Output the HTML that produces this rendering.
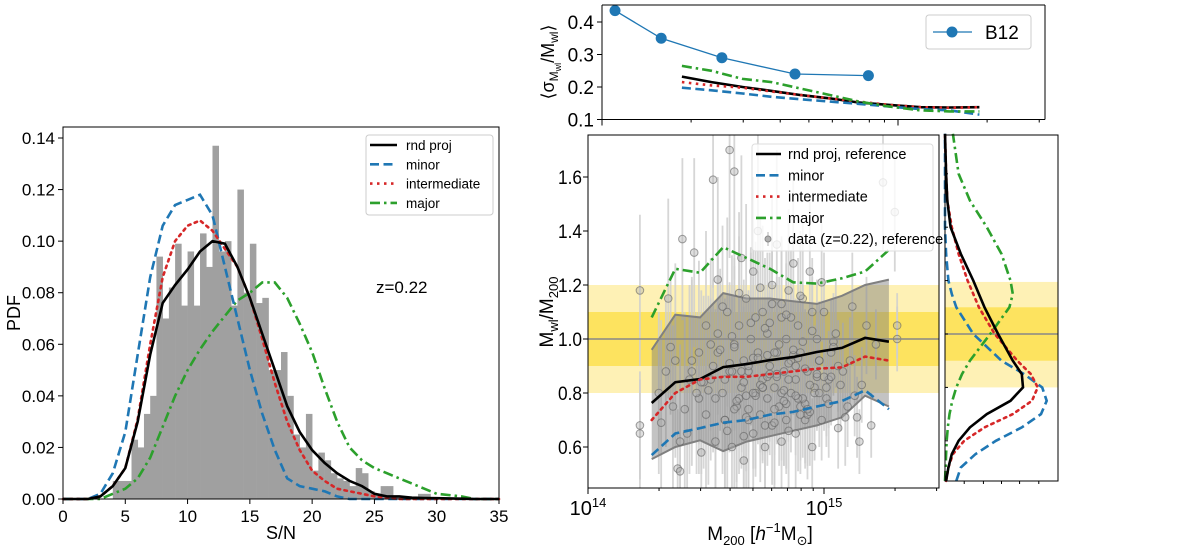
<!DOCTYPE html>
<html><head><meta charset="utf-8">
<style>
html,body{margin:0;padding:0;background:#fff;}
svg{display:block;font-family:"Liberation Sans","DejaVu Sans",sans-serif;}
</style></head>
<body>
<svg id="fig" width="1200" height="546" viewBox="0 0 1200 546" xmlns="http://www.w3.org/2000/svg">
<g id="left"></g>
<g id="top"></g>
<g id="main"></g>
<g id="side"></g>
</svg>
<script>
// ---------- LEFT PANEL DATA ----------
const histBinStart = 4.0;
const histBinWidth = 0.5;
const histValues = [0.007,0.007,0.007,0.023,0.020,0.033,0.040,0.094,0.070,0.082,0.099,0.075,0.096,0.075,0.103,0.090,0.137,0.096,0.100,0.075,0.120,0.080,0.099,0.076,0.078,0.050,0.050,0.057,0.040,0.025,0.020,0.033,0.011,0.018,0.015,0.010,0.008,0.007,0.005,0.012,0.010,0.003,0.002,0.005,0.005,0.001,0.001,0.001,0.001,0.002,0.002];
const pdfX = [0,2,3,4,5,6,7,8,9,10,11,12,13,14,15,16,17,18,19,20,21,22,23,24,25,26,27,28,29,30,32,33,35];
const pdfRnd = [0,0,0.001,0.005,0.012,0.030,0.056,0.076,0.083,0.089,0.096,0.100,0.099,0.090,0.078,0.064,0.050,0.036,0.026,0.019,0.014,0.010,0.007,0.005,0.002,0.001,0.001,0.0005,0.0004,0.0003,0.0001,0,0];
const pdfMinor = [0,0,0.002,0.010,0.026,0.056,0.086,0.106,0.114,0.116,0.118,0.110,0.090,0.070,0.050,0.033,0.019,0.008,0.005,0.004,0.003,0.001,0,0,0,0,0,0,0,0,0,0,0];
const pdfInter = [0,0,0.001,0.005,0.012,0.031,0.060,0.086,0.100,0.106,0.108,0.104,0.097,0.090,0.078,0.062,0.045,0.030,0.019,0.011,0.007,0.004,0.003,0.002,0.001,0.0005,0,0,0,0,0,0,0];
const pdfMajor = [0,0,0,0.002,0.004,0.008,0.016,0.028,0.040,0.050,0.058,0.065,0.071,0.077,0.080,0.084,0.084,0.078,0.068,0.057,0.043,0.030,0.020,0.015,0.012,0.010,0.008,0.006,0.004,0.002,0.001,0,0];
const leftXTicks = [0,5,10,15,20,25,30,35];
const leftYTicks = [0,0.02,0.04,0.06,0.08,0.10,0.12,0.14];
const leftYTickLabels = ["0.00","0.02","0.04","0.06","0.08","0.10","0.12","0.14"];

// ---------- TOP PANEL DATA ----------
const b12LogM = [14.044,14.20,14.405,14.652,14.90];
const b12Sigma = [0.435,0.35,0.29,0.24,0.235];
const binLogM = [14.27,14.37,14.475,14.573,14.672,14.771,14.869,14.97,15.076,15.174,15.275];
const sigRnd = [0.232,0.215,0.200,0.188,0.175,0.165,0.152,0.145,0.138,0.137,0.138];
const sigInter = [0.215,0.205,0.198,0.186,0.175,0.165,0.155,0.145,0.138,0.136,0.138];
const sigMinor = [0.198,0.190,0.180,0.170,0.162,0.155,0.148,0.140,0.132,0.128,0.115];
const sigMajor = [0.265,0.250,0.225,0.215,0.195,0.175,0.155,0.140,0.128,0.125,0.125];
const topYTicks = [0.1,0.2,0.3,0.4];

// ---------- MAIN PANEL DATA ----------
const ratioRnd = [0.763,0.840,0.852,0.896,0.907,0.922,0.933,0.952,0.967,1.004,0.990];
const ratioInter = [0.70,0.80,0.85,0.86,0.86,0.87,0.88,0.89,0.895,0.935,0.92];
const ratioMinor = [0.57,0.65,0.67,0.69,0.70,0.72,0.73,0.75,0.77,0.81,0.74];
const ratioMajor = [1.08,1.26,1.245,1.34,1.30,1.26,1.21,1.205,1.225,1.25,1.33];
const bandUpper = [0.96,1.09,1.08,1.17,1.15,1.15,1.14,1.13,1.16,1.20,1.22];
const bandLower = [0.555,0.60,0.625,0.585,0.62,0.64,0.66,0.68,0.71,0.79,0.75];
const mainYTicks = [0.6,0.8,1.0,1.2,1.4,1.6];
const dataLogM = [14.22,14.22,14.22,14.35,14.38,14.39,14.30,14.33,14.36,14.40,14.42,14.44,14.45,14.47,14.48,14.50,14.50,14.52,14.53,14.54,14.55,14.55,14.57,14.58,14.59,14.60,14.60,14.61,14.62,14.62,14.63,14.64,14.65,14.65,14.66,14.66,14.67,14.68,14.68,14.69,14.70,14.70,14.71,14.72,14.72,14.73,14.74,14.74,14.75,14.76,14.76,14.77,14.78,14.78,14.79,14.80,14.80,14.81,14.82,14.82,14.83,14.84,14.84,14.85,14.86,14.86,14.87,14.88,14.88,14.89,14.90,14.90,14.91,14.92,14.93,14.94,14.95,14.96,14.97,14.98,14.99,15.00,15.01,15.02,15.03,15.05,15.06,15.08,15.10,15.12,15.15,15.18,15.20,15.25,15.30,15.31,15.31,14.46,14.52,14.58,14.64,14.70,14.76,14.82,14.88,14.94,14.56,14.62,14.68,14.74,14.80,14.86,14.92,14.98,14.49,14.55,14.61,14.67,14.73,14.79,14.85,14.91,14.97,15.04,
14.51,14.53,14.57,14.59,14.61,14.63,14.64,14.66,14.67,14.69,14.71,14.72,14.73,14.75,14.77,14.78,14.79,14.81,14.83,14.84,14.85,14.87,14.89,14.90,14.92,14.93,14.95,14.96,14.99,15.00,15.02,15.04,15.07,15.09,15.11,14.54,14.58,14.62,14.65,14.68,14.71,14.74,14.76,14.79,14.82,14.85,14.88,14.91,14.94,14.97,15.01,14.60,14.66,14.70,14.75,14.80,14.84,14.87,14.90,14.95,14.48,14.44,14.41,14.37,14.34,14.31,14.43,14.47,14.39,15.13,15.16,15.22,15.14,15.06,15.03,14.98,14.93,14.89,14.83,14.77];
const dataRatio = [1.18,0.68,0.65,0.97,0.52,0.51,0.80,0.88,0.75,1.37,0.65,0.92,1.32,0.78,0.58,1.05,0.72,0.85,1.59,0.62,0.95,1.22,0.80,0.70,1.10,1.70,0.88,0.60,1.62,0.98,0.75,1.05,0.82,1.30,0.55,0.92,1.15,0.70,0.88,1.00,0.65,1.25,0.80,0.95,1.40,0.72,0.85,1.10,0.60,1.02,0.78,0.90,1.20,0.68,0.82,0.95,1.35,0.75,1.08,0.62,0.88,1.00,0.70,1.18,0.80,0.92,1.28,0.65,0.85,1.05,0.75,0.95,1.15,0.70,0.88,1.25,0.60,0.82,1.00,0.92,0.70,1.10,0.78,0.85,0.95,1.02,0.67,0.88,0.75,1.12,0.62,1.05,0.68,1.58,1.47,1.05,1.00,0.80,0.98,0.85,0.78,0.93,0.86,0.80,0.90,0.83,0.96,0.74,0.90,0.82,0.87,1.08,0.76,0.92,0.84,1.02,0.88,0.79,0.83,0.95,0.91,0.78,0.86,0.99,0.81,
0.90,1.12,0.66,1.01,0.77,1.17,0.84,0.71,1.06,0.79,0.93,1.19,0.68,0.87,1.13,0.74,0.98,0.81,1.09,0.66,0.94,0.78,1.16,0.89,0.72,1.03,0.80,1.21,0.86,0.76,0.97,0.83,0.71,0.92,0.78,0.70,0.97,0.88,0.74,1.08,0.82,0.94,0.69,1.13,0.85,0.79,0.99,0.73,0.87,0.82,0.91,0.64,0.80,1.04,0.86,0.76,0.96,0.72,1.10,0.84,0.88,0.74,0.92,1.15,0.69,0.85,0.95,0.62,0.79,0.83,0.98,0.71,0.90,0.86,0.80,0.74,0.93,0.77,1.06];
const dataErr = [0.28,0.20,0.20,0.25,0.22,0.22,0.30,0.28,0.30,0.30,0.25,0.30,0.35,0.28,0.25,0.35,0.30,0.30,0.40,0.28,0.35,0.38,0.30,0.30,0.35,0.40,0.30,0.25,0.40,0.32,0.28,0.33,0.30,0.38,0.25,0.30,0.35,0.28,0.30,0.32,0.25,0.35,0.28,0.30,0.38,0.25,0.28,0.32,0.22,0.30,0.25,0.28,0.33,0.22,0.25,0.28,0.35,0.22,0.30,0.20,0.25,0.28,0.20,0.30,0.22,0.25,0.32,0.20,0.22,0.25,0.20,0.22,0.28,0.18,0.22,0.28,0.18,0.20,0.22,0.20,0.15,0.22,0.18,0.18,0.20,0.20,0.15,0.18,0.15,0.20,0.12,0.18,0.12,0.25,0.22,0.12,0.12,0.30,0.32,0.30,0.28,0.30,0.28,0.25,0.25,0.22,0.30,0.30,0.28,0.28,0.25,0.25,0.22,0.22,0.32,0.30,0.28,0.28,0.25,0.25,0.22,0.22,0.20,0.18,
0.35,0.32,0.30,0.34,0.30,0.33,0.30,0.28,0.32,0.28,0.30,0.32,0.26,0.28,0.30,0.26,0.28,0.25,0.28,0.24,0.26,0.22,0.27,0.24,0.22,0.24,0.20,0.25,0.22,0.20,0.20,0.18,0.17,0.18,0.16,0.33,0.32,0.30,0.30,0.29,0.28,0.27,0.26,0.25,0.24,0.23,0.22,0.21,0.20,0.20,0.18,0.30,0.28,0.28,0.26,0.25,0.24,0.23,0.22,0.20,0.34,0.35,0.36,0.36,0.37,0.38,0.35,0.34,0.36,0.15,0.14,0.13,0.15,0.17,0.18,0.20,0.21,0.22,0.24,0.26];

// ---------- SIDE PANEL DATA ----------
const sideY = [0.45,0.50,0.55,0.60,0.65,0.70,0.75,0.80,0.85,0.90,1.00,1.10,1.15,1.20,1.30,1.40,1.50,1.60,1.75];
const sideRnd = [0.01,0.03,0.06,0.12,0.22,0.37,0.58,0.69,0.68,0.60,0.47,0.35,0.30,0.25,0.14,0.05,0.02,0.01,0.0];
const sideInter = [0.01,0.03,0.07,0.17,0.35,0.60,0.77,0.82,0.76,0.64,0.44,0.30,0.25,0.20,0.12,0.06,0.02,0.01,0.0];
const sideMinor = [0.10,0.14,0.27,0.45,0.68,0.85,0.90,0.86,0.70,0.50,0.25,0.10,0.06,0.03,0.01,0.0,0.0,0.0,0.0];
const sideMajor = [0.0,0.005,0.01,0.015,0.025,0.04,0.065,0.10,0.15,0.22,0.40,0.57,0.60,0.58,0.50,0.37,0.22,0.12,0.07];

const NS = "http://www.w3.org/2000/svg";
function el(tag, attrs, parent, text){
  const e = document.createElementNS(NS, tag);
  for (const k in attrs) e.setAttribute(k, attrs[k]);
  if (text !== undefined) e.textContent = text;
  parent.appendChild(e);
  return e;
}
const styles = {
  rnd:{stroke:"#000","stroke-width":2.6,fill:"none"},
  minor:{stroke:"#1f77b4","stroke-width":2.6,fill:"none","stroke-dasharray":"9,4.5"},
  inter:{stroke:"#d62728","stroke-width":2.6,fill:"none","stroke-dasharray":"2.5,4.5"},
  major:{stroke:"#2ca02c","stroke-width":2.6,fill:"none","stroke-dasharray":"10,4,2.5,4"}
};
function pathFrom(xs, ys, sx, sy){
  return xs.map((x,i)=>(i?"L":"M")+sx(x).toFixed(1)+","+sy(ys[i]).toFixed(1)).join(" ");
}

// ===== LEFT =====
(function(){
  const g = document.getElementById("left");
  const X0=63,X1=499,Y0=499,Y1=127;
  const sx = v => X0 + (v/35)*(X1-X0);
  const sy = v => Y0 - (v/0.14)*(Y0-138);
  histValues.forEach((h,i)=>{
    const x0 = histBinStart + i*histBinWidth;
    const r = el("rect",{x:sx(x0),y:sy(h),width:sx(x0+histBinWidth)-sx(x0)+0.3,height:Y0-sy(h),fill:"#a0a0a0"},g);
    
    
  });
  [["major",pdfMajor],["minor",pdfMinor],["inter",pdfInter],["rnd",pdfRnd]].forEach(([k,arr])=>{
    const p = el("path",Object.assign({d:pathFrom(pdfX,arr,sx,sy),"stroke-linecap":k==="inter"?"round":"butt"},styles[k]),g);
    
    
  });
  const fr = el("rect",{x:X0,y:Y1,width:X1-X0,height:Y0-Y1,fill:"none",stroke:"#000","stroke-width":1},g);
  
  
  leftXTicks.forEach(t=>{
    el("line",{x1:sx(t),x2:sx(t),y1:Y0,y2:Y0+5,stroke:"#000"},g);
    const tx = el("text",{x:sx(t),y:Y0+23,"font-size":17,"text-anchor":"middle"},g,String(t));
    
    
  });
  leftYTicks.forEach((t,i)=>{
    el("line",{x1:X0-5,x2:X0,y1:sy(t),y2:sy(t),stroke:"#000"},g);
    const tx = el("text",{x:X0-8,y:sy(t)+6,"font-size":17,"text-anchor":"end"},g,leftYTickLabels[i]);
    
    
  });
  const xl = el("text",{x:281,y:539,"font-size":18,"text-anchor":"middle"},g,"S/N");
  
  
  const yl = el("text",{x:0,y:0,"font-size":18,"text-anchor":"middle",transform:"translate(20,313) rotate(-90)"},g,"PDF");
  
  
  const z = el("text",{x:376,y:293,"font-size":17},g,"z=0.22");
  
  
  const lg = el("g",{},g);
  
  
  el("rect",{x:366,y:135,width:127,height:80,rx:3,fill:"#fff","fill-opacity":0.85,stroke:"#ccc"},lg);
  [["rnd","rnd proj"],["minor","minor"],["inter","intermediate"],["major","major"]].forEach(([k,lab],i)=>{
    const yy = 145+i*19.3;
    el("line",Object.assign({x1:370,x2:397,y1:yy,y2:yy},styles[k]),lg);
    const t = el("text",{x:406,y:yy+5,"font-size":13.5},lg,lab);
    
    
  });
})();

// ===== TOP =====
(function(){
  const g = document.getElementById("top");
  const X0=602,X1=1045,Y0=119.5,Y1=5;
  const sx = v => X0 + (v-14)*296;
  const sy = v => Y0 - (v-0.1)*325;
  [["rnd",sigRnd],["inter",sigInter],["minor",sigMinor],["major",sigMajor]].forEach(([k,arr])=>{
    const p = el("path",Object.assign({d:pathFrom(binLogM,arr,sx,sy)},styles[k]),g);
    
    
  });
  const bl = el("path",{d:pathFrom(b12LogM,b12Sigma,sx,sy),stroke:"#1f77b4","stroke-width":1.3,fill:"none"},g);
  
  
  b12LogM.forEach((m,i)=>{
    const c = el("circle",{cx:sx(m),cy:sy(b12Sigma[i]),r:5.5,fill:"#1f77b4"},g);
    
    
  });
  el("line",{x1:X0,x2:X0,y1:Y1,y2:Y0,stroke:"#000"},g);
  el("line",{x1:X0,x2:X1,y1:Y0,y2:Y0,stroke:"#000"},g);
  el("line",{x1:X0,x2:X1,y1:Y1,y2:Y1,stroke:"#000"},g);
  el("line",{x1:X1,x2:X1,y1:Y1,y2:Y0,stroke:"#000"},g);
  topYTicks.forEach(t=>{
    el("line",{x1:X0-5,x2:X0,y1:sy(t),y2:sy(t),stroke:"#000"},g);
    const tx = el("text",{x:X0-8,y:sy(t)+7,"font-size":19,"text-anchor":"end"},g,t.toFixed(1));
    
    
  });
  for(let d=14;d<=15;d++) for(let m=1;m<=9;m++){
    const lv = d+Math.log10(m); if (lv>15.5) break;
    el("line",{x1:sx(lv),x2:sx(lv),y1:Y0,y2:Y0+(m===1?6:3),stroke:"#000"},g);
  }
  const yl = el("text",{x:0,y:0,"font-size":18,"text-anchor":"middle",transform:"translate(554,62) rotate(-90)"},g);
  
  
  yl.innerHTML = '⟨σ<tspan font-size="12" dy="4">M</tspan><tspan font-size="9" dy="3">wl</tspan><tspan dy="-7">/M</tspan><tspan font-size="12" dy="4">wl</tspan><tspan dy="-4">⟩</tspan>';
  const lg = el("g",{},g);
  
  
  el("rect",{x:926,y:15,width:105,height:34,rx:3,fill:"#fff",stroke:"#ccc"},lg);
  el("line",{x1:933,x2:972,y1:32,y2:32,stroke:"#1f77b4","stroke-width":1.3},lg);
  el("circle",{cx:952,cy:32,r:5.5,fill:"#1f77b4"},lg);
  const t = el("text",{x:985,y:39,"font-size":19},lg,"B12");
  
  
})();

// ===== MAIN =====
(function(){
  const g = document.getElementById("main");
  const X0=588,X1=939,Y0=488,Y1=135;
  const sx = v => X0 + (v-14)*236;
  const sy = v => 339 - (v-1.0)*270;
  const cp = el("clipPath",{id:"mclip"},g);
  el("rect",{x:X0,y:Y1,width:X1-X0,height:Y0-Y1},cp);
  const inner = el("g",{"clip-path":"url(#mclip)"},g);
  const b1 = el("rect",{x:X0,y:sy(1.2),width:X1-X0,height:sy(0.8)-sy(1.2),fill:"#fef1b5"},inner);
  
  
  const b2 = el("rect",{x:X0,y:sy(1.1),width:X1-X0,height:sy(0.9)-sy(1.1),fill:"#fde35f"},inner);
  
  
  dataLogM.forEach((m,i)=>{
    const e = el("line",{x1:sx(m),x2:sx(m),y1:sy(dataRatio[i]+dataErr[i]),y2:sy(dataRatio[i]-dataErr[i]),stroke:"#cfcfcf","stroke-width":1.8,"stroke-opacity":0.85},inner);
    
    
  });
  const bandPts = binLogM.map((m,i)=>sx(m)+","+sy(bandUpper[i])).concat(binLogM.slice().reverse().map((m,j)=>{const i=binLogM.length-1-j;return sx(m)+","+sy(bandLower[i]);}));
  const band = el("polygon",{points:bandPts.join(" "),fill:"#7a7a7a","fill-opacity":0.45},inner);
  
  
  const bu = el("path",{d:pathFrom(binLogM,bandUpper,sx,sy),stroke:"#808080","stroke-width":2,fill:"none"},inner);
  
  
  const bl = el("path",{d:pathFrom(binLogM,bandLower,sx,sy),stroke:"#808080","stroke-width":2,fill:"none"},inner);
  
  
  dataLogM.forEach((m,i)=>{
    const c = el("circle",{cx:sx(m),cy:sy(dataRatio[i]),r:3.8,fill:"#b0b0b0","fill-opacity":0.4,stroke:"#606060","stroke-opacity":0.6,"stroke-width":1},inner);
    
    
  });
  el("line",{x1:X0,x2:X1,y1:sy(1.0),y2:sy(1.0),stroke:"#888","stroke-width":1.5},inner);
  [["rnd",ratioRnd],["inter",ratioInter],["minor",ratioMinor],["major",ratioMajor]].forEach(([k,arr])=>{
    const p = el("path",Object.assign({d:pathFrom(binLogM,arr,sx,sy),"stroke-linecap":k==="inter"?"round":"butt"},styles[k]),inner);
    
    
  });
  const fr = el("rect",{x:X0,y:Y1,width:X1-X0,height:Y0-Y1,fill:"none",stroke:"#000"},g);
  
  
  mainYTicks.forEach(t=>{
    el("line",{x1:X0-5,x2:X0,y1:sy(t),y2:sy(t),stroke:"#000"},g);
    const tx = el("text",{x:X0-6,y:sy(t)+7,"font-size":19,"text-anchor":"end",textLength:24,lengthAdjust:"spacingAndGlyphs"},g,t.toFixed(1));
    
    
  });
  for(let d=14;d<=15;d++) for(let m=1;m<=9;m++){
    const lv = d+Math.log10(m); if (lv>15.49) break;
    el("line",{x1:sx(lv),x2:sx(lv),y1:Y0,y2:Y0+(m===1?6:3),stroke:"#000"},g);
  }
  [14,15].forEach(d=>{
    const t = el("text",{x:sx(d),y:Y0+27,"font-size":20,"text-anchor":"middle"},g);
    
    
    t.innerHTML = '10<tspan font-size="13" dy="-8">'+d+'</tspan>';
  });
  const xl = el("text",{x:760,y:540,"font-size":19,"text-anchor":"middle"},g);
  
  
  xl.innerHTML = 'M<tspan font-size="13" dy="5">200</tspan><tspan dy="-5"> [</tspan><tspan font-style="italic">h</tspan><tspan font-size="13" dy="-8">−1</tspan><tspan dy="8">M</tspan><tspan font-size="13" dy="5">⊙</tspan><tspan dy="-5">]</tspan>';
  const yl = el("text",{x:0,y:0,"font-size":19,"text-anchor":"middle",transform:"translate(553,312) rotate(-90)"},g);
  
  
  yl.innerHTML = 'M<tspan font-size="13" dy="5">wl</tspan><tspan dy="-5">/M</tspan><tspan font-size="13" dy="5">200</tspan>';
  const lg = el("g",{},g);
  
  
  el("rect",{x:752,y:144,width:181,height:107,rx:3,fill:"#fff","fill-opacity":0.8,stroke:"#ddd"},lg);
  [["rnd","rnd proj, reference"],["minor","minor"],["inter","intermediate"],["major","major"]].forEach(([k,lab],i)=>{
    const yy = 154+i*21.3;
    el("line",Object.assign({x1:756,x2:781,y1:yy,y2:yy},styles[k]),lg);
    const t = el("text",{x:788,y:yy+5,"font-size":14.5},lg,lab);
    
    
  });
  el("line",{x1:768,x2:768,y1:232,y2:246,stroke:"#ccc","stroke-width":1.5},lg);
  el("circle",{cx:768,cy:239,r:3,fill:"#b0b0b0",stroke:"#888"},lg);
  const t5 = el("text",{x:788,y:244,"font-size":14.5},lg,"data (z=0.22), reference");
  
  
})();

// ===== SIDE =====
(function(){
  const g = document.getElementById("side");
  const X0=945,X1=1058,Y0=481,Y1=135;
  const sx = v => X0 + v*(X1-X0);
  const sy = v => 334 - (v-1.0)*267;
  const b1 = el("rect",{x:X0,y:sy(1.195),width:X1-X0,height:sy(0.80)-sy(1.195),fill:"#fef1b5"},g);
  
  
  const b2 = el("rect",{x:X0,y:sy(1.10),width:X1-X0,height:sy(0.90)-sy(1.10),fill:"#fde35f"},g);
  
  
  el("line",{x1:X0,x2:X1,y1:sy(1.0),y2:sy(1.0),stroke:"#888","stroke-width":1.5},g);
  [["major",sideMajor],["minor",sideMinor],["inter",sideInter],["rnd",sideRnd]].forEach(([k,arr])=>{
    const d = arr.map((v,i)=>(i?"L":"M")+sx(v).toFixed(1)+","+sy(sideY[i]).toFixed(1)).join(" ");
    const p = el("path",Object.assign({d:d,"stroke-linecap":k==="inter"?"round":"butt"},styles[k]),g);
    
    
  });
  const fr = el("rect",{x:X0,y:Y1,width:X1-X0,height:Y0-Y1,fill:"none",stroke:"#000"},g);
  
  
  [0.6,0.8,1.0,1.2,1.4,1.6].forEach(t=>el("line",{x1:X0,x2:X0+3,y1:sy(t),y2:sy(t),stroke:"#000"},g));
  [0.17,0.34,0.5,0.66,0.83].forEach(f=>el("line",{x1:sx(f),x2:sx(f),y1:Y0,y2:Y0+3,stroke:"#000"},g));
})();
</script>
</body></html>
